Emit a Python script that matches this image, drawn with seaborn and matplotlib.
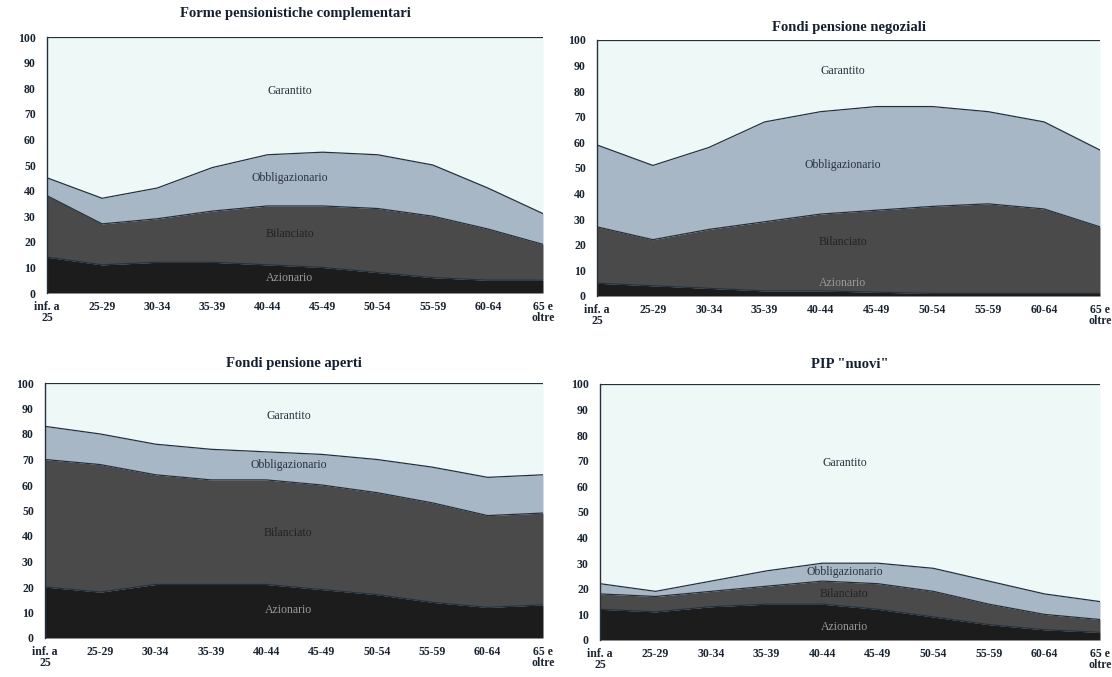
import numpy as np
import pandas as pd
import matplotlib
matplotlib.use("Agg")
import matplotlib.pyplot as plt
import seaborn as sns

# age classes
eta = ["inf. a\n25", "25-29", "30-34", "35-39", "40-44", "45-49",
       "50-54", "55-59", "60-64", "65 e\noltre"]
comparti = ["Azionario", "Bilanciato", "Obbligazionario", "Garantito"]

# shares (%) per comparto, one list per panel
forme_az = [14, 11, 12, 12, 11, 10, 8, 6, 5, 5]
forme_bil = [24, 16, 17, 20, 23, 24, 25, 24, 20, 14]
forme_obb = [7, 10, 12, 17, 20, 21, 21, 20, 16, 12]
forme_gar = [55, 63, 59, 51, 46, 45, 46, 50, 59, 69]

neg_az = [5, 4, 3, 2, 2, 1.5, 1, 1, 1, 1]
neg_bil = [22, 18, 23, 27, 30, 32, 34, 35, 33, 26]
neg_obb = [32, 29, 32, 39, 40, 40.5, 39, 36, 34, 30]
neg_gar = [41, 49, 42, 32, 28, 26, 26, 28, 32, 43]

aperti_az = [20, 18, 21, 21, 21, 19, 17, 14, 12, 13]
aperti_bil = [50, 50, 43, 41, 41, 41, 40, 39, 36, 36]
aperti_obb = [13, 12, 12, 12, 11, 12, 13, 14, 15, 15]
aperti_gar = [17, 20, 24, 26, 27, 28, 30, 33, 37, 36]

pip_az = [12, 11, 13, 14, 14, 12, 9, 6, 4, 3]
pip_bil = [6, 6, 6, 7, 9, 10, 10, 8, 6, 5]
pip_obb = [4, 2, 4, 6, 7, 8, 9, 9, 8, 7]
pip_gar = [78, 81, 77, 73, 70, 70, 72, 77, 82, 85]

titoli = ["Forme pensionistiche complementari", "Fondi pensione negoziali",
          "Fondi pensione aperti", "PIP \"nuovi\""]
pannelli = [
    [forme_az, forme_bil, forme_obb, forme_gar],
    [neg_az, neg_bil, neg_obb, neg_gar],
    [aperti_az, aperti_bil, aperti_obb, aperti_gar],
    [pip_az, pip_bil, pip_obb, pip_gar],
]
# y position of the in-chart labels (Azionario, Bilanciato, Obbligazionario, Garantito)
label_y = [[6, 23, 45, 79], [5, 21, 51, 88], [11, 41, 68, 87], [5, 18, 26.5, 69]]

colori = ["#1c1c1c", "#4a4a4a", "#a8b7c5", "#eef8f6"]
colori_testo = ["#9a9a9a", "#222222", "#2a3340", "#2a3340"]

sns.set_theme(style="white")
plt.rcParams["font.family"] = ["Liberation Serif", "DejaVu Serif"]

fig = plt.figure(figsize=(11.12, 6.77), dpi=100)
boxes = [
    [47 / 1112, 1 - 293 / 677, 496 / 1112, 256 / 677],
    [597 / 1112, 1 - 296 / 677, 503 / 1112, 256 / 677],
    [45 / 1112, 1 - 638 / 677, 498 / 1112, 255 / 677],
    [600 / 1112, 1 - 640 / 677, 500 / 1112, 256 / 677],
]
title_y = [14, 27, 363, 365]

x = np.arange(len(eta))
for i, box in enumerate(boxes):
    ax = fig.add_axes(box)
    serie = pannelli[i]
    ax.stackplot(x, *serie, colors=colori, linewidth=0)
    cum = np.cumsum(np.array(serie, dtype=float), axis=0)
    for k in range(4):
        df = pd.DataFrame({"x": x, "y": cum[k]})
        sns.lineplot(data=df, x="x", y="y", ax=ax, color="#24313d", linewidth=0.9)
    for k, nome in enumerate(comparti):
        ax.text(4.4, label_y[i][k], nome, ha="center", va="center",
                fontsize=8.5, color=colori_testo[k])
    ax.set_xlim(0, len(eta) - 1)
    ax.set_ylim(0, 100)
    ax.set_yticks(range(0, 101, 10))
    ax.set_xticks(x)
    ax.set_xticklabels(eta, fontsize=8.5, fontweight="bold", color="#1a2430", linespacing=0.9)
    ax.tick_params(axis="y", labelsize=8.5, colors="#1a2430", length=0, pad=8)
    ax.tick_params(axis="x", length=0, pad=6)
    for lab in ax.get_yticklabels():
        lab.set_fontweight("bold")
    ax.set_xlabel("")
    ax.set_ylabel("")
    for s in ["top", "right", "bottom"]:
        ax.spines[s].set_visible(False)
    ax.spines["left"].set_color("#24313d")
    ax.spines["left"].set_linewidth(1.0)
    fig.text(box[0] + box[2] / 2, 1 - title_y[i] / 677, titoli[i], ha="center", va="center",
             fontsize=10.5, fontweight="bold", color="#142030")

fig.savefig("out.png", dpi=100)
